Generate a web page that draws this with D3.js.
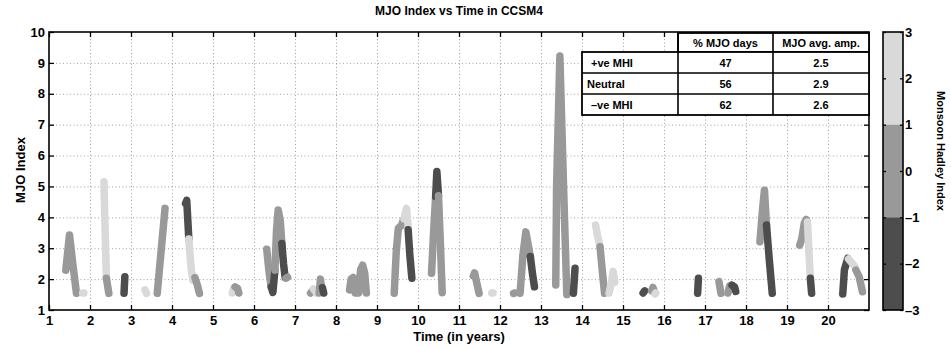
<!DOCTYPE html>
<html>
<head>
<meta charset="utf-8">
<script src="https://cdn.jsdelivr.net/npm/d3@7"></script>
<style>
  body { margin: 0; background: #fff; }
  svg { display: block; font-family: "Liberation Sans", Arial, Helvetica, sans-serif; font-weight: bold; }
</style>
</head>
<body>
<svg id="chart" width="951" height="348"></svg>
<script>
// tick values
const xTicks = d3.range(1, 21);
const yTicks = d3.range(1, 11);
const cbTicks = [-3, -2, -1, 0, 1, 2, 3];

// MHI classes: +ve (light), neutral (mid), -ve (dark)
const mhiBands = [[1, 3], [-1, 1], [-3, -1]];
const mhiColors = ['#d9d9d9', '#999999', '#4d4d4d'];

// table
const tableHead = ['% MJO days', 'MJO avg. amp.'];
const tableRows = ['+ve MHI', 'Neutral', '\u2013ve MHI'];
const pctDays = [47, 56, 62];
const avgAmp = ['2.5', '2.9', '2.6'];

// MJO index tracks: [class, [[time, index], ...]]  class 0=+ve 1=neutral 2=-ve
const tracks = [
  [1, [[1.41, 2.29], [1.50, 3.43], [1.58, 2.5], [1.67, 1.54]]],
  [0, [[1.82, 1.55], [1.85, 1.55]]],
  [0, [[2.34, 5.15], [2.37, 3.5], [2.40, 2.03]]],
  [1, [[2.40, 2.03], [2.46, 1.54]]],
  [2, [[2.85, 2.08], [2.83, 1.54]]],
  [0, [[3.34, 1.65], [3.38, 1.54]]],
  [1, [[3.64, 1.54], [3.83, 4.29]]],
  [2, [[4.33, 4.45], [4.36, 4.55], [4.41, 3.3]]],
  [0, [[4.41, 3.3], [4.47, 2.3], [4.51, 1.97]]],
  [1, [[4.56, 2.05], [4.62, 1.8], [4.67, 1.54]]],
  [0, [[5.47, 1.55], [5.51, 1.72]]],
  [1, [[5.54, 1.75], [5.60, 1.7], [5.63, 1.55]]],
  [1, [[6.31, 2.97], [6.37, 2.2], [6.42, 1.75]]],
  [2, [[6.42, 1.75], [6.46, 1.57], [6.51, 2.29]]],
  [1, [[6.51, 2.29], [6.55, 3.6], [6.59, 4.24], [6.64, 3.9], [6.68, 3.15]]],
  [2, [[6.68, 3.15], [6.72, 2.5], [6.76, 2.05]]],
  [1, [[6.78, 2.03], [6.82, 2.06]]],
  [1, [[7.38, 1.55], [7.41, 1.6]]],
  [0, [[7.45, 1.68], [7.50, 1.6], [7.52, 1.55]]],
  [1, [[7.59, 1.55], [7.62, 2.0], [7.66, 1.6]]],
  [2, [[7.67, 1.72], [7.70, 1.55]]],
  [1, [[8.33, 1.65], [8.37, 2.0], [8.42, 2.05], [8.47, 1.55], [8.55, 1.55], [8.60, 2.3], [8.65, 2.45], [8.70, 2.2], [8.74, 1.55]]],
  [1, [[9.42, 1.54], [9.47, 2.9], [9.52, 3.64], [9.60, 3.75], [9.64, 3.91]]],
  [0, [[9.66, 3.95], [9.72, 4.29], [9.76, 3.7]]],
  [2, [[9.76, 3.6], [9.80, 2.8], [9.85, 2.03]]],
  [1, [[10.33, 2.19], [10.38, 3.5], [10.43, 4.67]]],
  [2, [[10.43, 4.67], [10.46, 5.48], [10.50, 4.7]]],
  [1, [[10.50, 4.7], [10.55, 3.0], [10.59, 1.56]]],
  [1, [[11.35, 2.1], [11.38, 2.2], [11.43, 1.9], [11.49, 1.54]]],
  [0, [[11.80, 1.55], [11.83, 1.55]]],
  [1, [[12.33, 1.54], [12.36, 1.55]]],
  [1, [[12.49, 1.54], [12.56, 2.8], [12.63, 3.53], [12.69, 3.1], [12.74, 2.73]]],
  [2, [[12.74, 2.73], [12.79, 2.2], [12.84, 1.75]]],
  [1, [[13.36, 1.81], [13.38, 5.0], [13.46, 9.22], [13.55, 5.0], [13.63, 1.5]]],
  [2, [[13.79, 1.54], [13.83, 2.35]]],
  [0, [[14.33, 3.75], [14.38, 3.4], [14.44, 3.05]]],
  [1, [[14.44, 3.05], [14.50, 2.2], [14.55, 1.54]]],
  [0, [[14.66, 1.55], [14.72, 1.9], [14.76, 2.25], [14.80, 1.9]]],
  [2, [[15.49, 1.55], [15.53, 1.62]]],
  [1, [[15.70, 1.62], [15.73, 1.73], [15.76, 1.62]]],
  [0, [[15.78, 1.52], [15.80, 1.55]]],
  [2, [[16.82, 1.54], [16.84, 2.03]]],
  [1, [[17.34, 1.92], [17.39, 1.54]]],
  [1, [[17.56, 1.55], [17.60, 1.78], [17.63, 1.8]]],
  [2, [[17.66, 1.8], [17.72, 1.75], [17.75, 1.6]]],
  [1, [[18.34, 3.21], [18.40, 4.2], [18.45, 4.88], [18.50, 3.75]]],
  [2, [[18.50, 3.75], [18.57, 2.6], [18.64, 1.54]]],
  [1, [[19.31, 3.1], [19.36, 3.3], [19.42, 3.8], [19.47, 3.93]]],
  [0, [[19.50, 3.85], [19.53, 3.0], [19.57, 2.03]]],
  [2, [[19.57, 2.03], [19.60, 1.54]]],
  [2, [[20.36, 1.52], [20.40, 2.3], [20.48, 2.67]]],
  [0, [[20.50, 2.65], [20.60, 2.5], [20.66, 2.4]]],
  [1, [[20.68, 2.29], [20.76, 2.08], [20.84, 1.59]]]
];

const svg = d3.select('#chart');
const L = 49, R = 869, T = 32, B = 310;

const x = d3.scaleLinear().domain([1, 21]).range([L, R]);
const y = d3.scaleLinear().domain([1, 10]).range([B, T]);

// grid
const grid = svg.append('g').attr('stroke', '#8a8a8a').attr('stroke-width', 0.8).attr('stroke-dasharray', '1,2.5');
grid.selectAll('.gx').data(xTicks.slice(1)).join('line')
  .attr('x1', d => x(d) + 0.5).attr('x2', d => x(d) + 0.5).attr('y1', T).attr('y2', B);
grid.selectAll('.gy').data(yTicks.slice(1, -1)).join('line')
  .attr('y1', d => y(d) + 0.5).attr('y2', d => y(d) + 0.5).attr('x1', L).attr('x2', R);

// tracks
const line = d3.line().x(d => x(d[0])).y(d => y(d[1]));
svg.append('g').selectAll('path').data(tracks).join('path')
  .attr('d', d => line(d[1]))
  .attr('fill', 'none')
  .attr('stroke', d => mhiColors[d[0]])
  .attr('stroke-width', 7.5)
  .attr('stroke-linecap', 'round')
  .attr('stroke-linejoin', 'round');

// axes
const axisFont = g => g.selectAll('text').attr('font-size', 13).attr('font-weight', 'bold').attr('fill', '#000')
  .attr('font-family', '"Liberation Sans", Arial, sans-serif');
svg.append('g').attr('transform', `translate(0,${B})`)
  .call(d3.axisBottom(x).tickValues(xTicks).tickSize(-5).tickPadding(6).tickFormat(d3.format('d')))
  .call(g => g.select('.domain').remove()).call(axisFont);
svg.append('g').attr('transform', `translate(${L},0)`)
  .call(d3.axisLeft(y).tickValues(yTicks).tickSize(-5).tickPadding(4).tickFormat(d3.format('d')))
  .call(g => g.select('.domain').remove()).call(axisFont);
svg.append('g').attr('transform', `translate(0,${T})`)
  .call(d3.axisTop(x).tickValues(xTicks).tickSize(-5).tickFormat(''))
  .call(g => g.select('.domain').remove());
svg.append('g').attr('transform', `translate(${R},0)`)
  .call(d3.axisRight(y).tickValues(yTicks).tickSize(-5).tickFormat(''))
  .call(g => g.select('.domain').remove());
svg.selectAll('.tick line').attr('stroke', '#000').attr('stroke-width', 1.3);
svg.append('rect').attr('x', L).attr('y', T).attr('width', R - L).attr('height', B - T)
  .attr('fill', 'none').attr('stroke', '#000').attr('stroke-width', 1.6);

// table
const colX = [582, 678, 773, 869];
const rowY = [33, 52, 73, 94, 115];
const tbl = svg.append('g');
tbl.append('rect').attr('x', colX[1]).attr('y', rowY[0]).attr('width', colX[3] - colX[1]).attr('height', rowY[1] - rowY[0])
  .attr('fill', '#fff').attr('stroke', '#000').attr('stroke-width', 1.8);
tbl.append('rect').attr('x', colX[0]).attr('y', rowY[1]).attr('width', colX[3] - colX[0]).attr('height', rowY[4] - rowY[1])
  .attr('fill', '#fff').attr('stroke', '#000').attr('stroke-width', 1.8);
tbl.selectAll('.hl').data([rowY[2], rowY[3]]).join('line')
  .attr('x1', colX[0]).attr('x2', colX[3]).attr('y1', d => d).attr('y2', d => d)
  .attr('stroke', '#000').attr('stroke-width', 1.6);
tbl.selectAll('.vl').data([colX[1], colX[2]]).join('line')
  .attr('x1', d => d).attr('x2', d => d).attr('y1', rowY[0]).attr('y2', rowY[4])
  .attr('stroke', '#000').attr('stroke-width', 1.6);
tbl.selectAll('.th').data(tableHead).join('text')
  .attr('x', (d, i) => (colX[i + 1] + colX[i + 2]) / 2).attr('y', (rowY[0] + rowY[1]) / 2 + 4)
  .attr('text-anchor', 'middle').attr('font-size', 11).text(d => d);
tbl.selectAll('.rl').data(tableRows).join('text')
  .attr('x', (d, i) => i === 1 ? 587 : 591).attr('y', (d, i) => (rowY[i + 1] + rowY[i + 2]) / 2 + 4)
  .attr('font-size', 11).text(d => d);
tbl.selectAll('.pc').data(pctDays).join('text')
  .attr('x', (colX[1] + colX[2]) / 2).attr('y', (d, i) => (rowY[i + 1] + rowY[i + 2]) / 2 + 4)
  .attr('text-anchor', 'middle').attr('font-size', 11).text(d => d);
tbl.selectAll('.am').data(avgAmp).join('text')
  .attr('x', (colX[2] + colX[3]) / 2).attr('y', (d, i) => (rowY[i + 1] + rowY[i + 2]) / 2 + 4)
  .attr('text-anchor', 'middle').attr('font-size', 11).text(d => d);

// colorbar
const cbL = 883, cbR = 903;
const cb = d3.scaleLinear().domain([-3, 3]).range([B, T]);
svg.append('g').selectAll('rect').data(mhiBands).join('rect')
  .attr('x', cbL).attr('width', cbR - cbL)
  .attr('y', d => cb(d[1])).attr('height', d => cb(d[0]) - cb(d[1]))
  .attr('fill', (d, i) => mhiColors[i]);
const cbFmt = d => d < 0 ? '\u2013' + Math.abs(d) : String(d);
svg.append('g').attr('transform', `translate(${cbR},0)`)
  .call(d3.axisRight(cb).tickValues(cbTicks).tickSize(-3).tickPadding(2).tickFormat(cbFmt))
  .call(g => g.select('.domain').remove()).call(axisFont);
svg.append('g').attr('transform', `translate(${cbL},0)`)
  .call(d3.axisLeft(cb).tickValues(cbTicks).tickSize(-3).tickFormat(''))
  .call(g => g.select('.domain').remove());
svg.selectAll('.tick line').attr('stroke', '#000').attr('stroke-width', 1.3);
svg.append('rect').attr('x', cbL).attr('y', T).attr('width', cbR - cbL).attr('height', B - T)
  .attr('fill', 'none').attr('stroke', '#000').attr('stroke-width', 1.6);

// titles
svg.append('text').attr('x', (L + R) / 2).attr('y', 15).attr('text-anchor', 'middle')
  .attr('font-size', 12).text('MJO Index vs Time in CCSM4');
svg.append('text').attr('x', (L + R) / 2).attr('y', 341).attr('text-anchor', 'middle')
  .attr('font-size', 13).text('Time (in years)');
svg.append('text').attr('transform', 'translate(25,170) rotate(-90)').attr('text-anchor', 'middle')
  .attr('font-size', 13).text('MJO Index');
svg.append('text').attr('transform', 'translate(937,151) rotate(90)').attr('text-anchor', 'middle')
  .attr('font-size', 11).text('Monsoon Hadley Index');
</script>
</body>
</html>
